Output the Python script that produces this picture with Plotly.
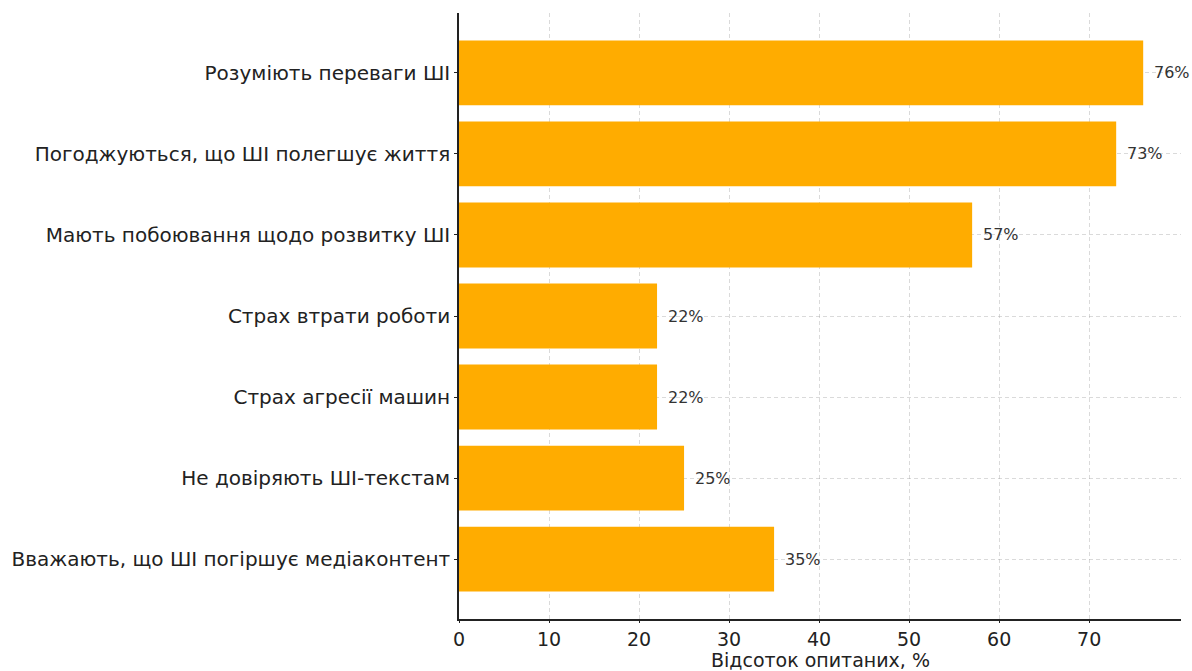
import plotly.graph_objects as go

categories = [
    "Вважають, що ШІ погіршує медіаконтент",
    "Не довіряють ШІ-текстам",
    "Страх агресії машин",
    "Страх втрати роботи",
    "Мають побоювання щодо розвитку ШІ",
    "Погоджуються, що ШІ полегшує життя",
    "Розуміють переваги ШІ",
]
values = [35, 25, 22, 22, 57, 73, 76]
x_ticks = [0, 10, 20, 30, 40, 50, 60, 70]
x_title = "Відсоток опитаних, %"

font = "DejaVu Sans"
W, H = 1192, 671
M = dict(l=459, r=11, t=13, b=52)

fig = go.Figure()
fig.add_trace(go.Bar(
    x=values, y=categories, orientation="h",
    marker=dict(color="#FFAC00", line=dict(width=0)),
    width=0.8,
    hoverinfo="skip",
))

for c, v in zip(categories, values):
    fig.add_annotation(
        x=v, y=c, text=f"{v}%", xanchor="left", yanchor="middle",
        xshift=9, showarrow=False,
        font=dict(family=font, size=16, color="#333333"),
    )

# x-axis title placed at the bottom edge of the figure
plot_h = H - M["t"] - M["b"]
fig.add_annotation(
    x=0.5, y=-M["b"] / plot_h, xref="paper", yref="paper",
    text=x_title, xanchor="center", yanchor="bottom", showarrow=False,
    font=dict(family=font, size=19, color="#222222"), borderpad=0, yshift=-1,
)

fig.update_layout(
    width=W, height=H,
    margin=dict(**M, autoexpand=False),
    paper_bgcolor="white", plot_bgcolor="white",
    showlegend=False,
    font=dict(family=font, color="#222222"),
)
fig.update_xaxes(
    range=[0, 80.2], tickvals=x_ticks, ticktext=[str(t) for t in x_ticks],
    showgrid=True, gridcolor="rgba(150,150,150,0.35)", griddash="4px,3px", gridwidth=1,
    showline=True, linecolor="#222222", linewidth=1.6,
    ticks="outside", ticklen=2, tickcolor="#222222", tickwidth=1.2,
    tickfont=dict(family=font, size=19, color="#222222"),
    zeroline=False, layer="above traces", automargin=False,
)
fig.update_yaxes(
    range=[-0.74, 6.74], categoryorder="array", categoryarray=categories,
    showgrid=True, gridcolor="rgba(150,150,150,0.35)", griddash="4px,3px", gridwidth=1,
    showline=True, linecolor="#222222", linewidth=1.6,
    ticks="outside", ticklen=3, tickcolor="#222222", tickwidth=1.2,
    tickfont=dict(family=font, size=20, color="#222222"),
    zeroline=False, layer="above traces", automargin=False,
)

fig.write_html("out.html")
